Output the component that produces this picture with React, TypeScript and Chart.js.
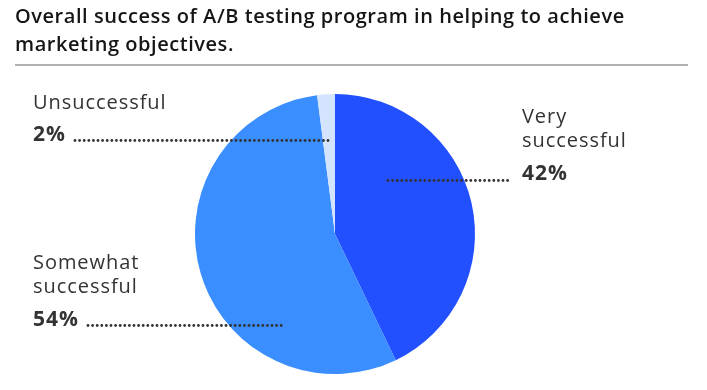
import React, { useEffect, useRef } from "react";
import { Chart, registerables } from "chart.js";

Chart.register(...registerables);

const categories = ["Very successful", "Somewhat successful", "Unsuccessful"];
const values = [42, 54, 2];
const labelLines = [["Very", "successful"], ["Somewhat", "successful"], ["Unsuccessful"]];
const colors = ["#2350FF", "#3A8EFF", "#D4E4FF"];
const titleLines = [
  "Overall success of A/B testing program in helping to achieve",
  "marketing objectives.",
];

// label layout: text x, first line y, pct y, dot line from/to
const labelLayout = [
  { x: 522, y0: 117, pctY: 174, dotY: 180.5, dx0: 388, dx1: 512 },
  { x: 33, y0: 263, pctY: 320, dotY: 325.5, dx0: 88, dx1: 283 },
  { x: 33, y0: 103, pctY: 135, dotY: 140.5, dx0: 75, dx1: 331 },
];

const FONT = "'Open Sans', sans-serif";

const overlay = {
  id: "overlay",
  afterDraw(chart: any) {
    const ctx = chart.ctx as any;
    ctx.save();
    ctx.fillStyle = "#151515";
    ctx.textBaseline = "middle";
    ctx.textAlign = "left";
    ctx.font = `600 20px ${FONT}`;
    ctx.letterSpacing = "0.55px";
    titleLines.forEach((t, i) => ctx.fillText(t, 15, 17 + i * 28));
    ctx.strokeStyle = "#9a9a9a";
    ctx.lineWidth = 1.5;
    ctx.beginPath();
    ctx.moveTo(15, 65);
    ctx.lineTo(688, 65);
    ctx.stroke();

    labelLayout.forEach((L, i) => {
      ctx.fillStyle = "#333";
      ctx.font = `400 20px ${FONT}`;
      ctx.letterSpacing = "0.95px";
      labelLines[i].forEach((t, j) => ctx.fillText(t, L.x, L.y0 + j * 24));
      ctx.font = `700 21px ${FONT}`;
      ctx.letterSpacing = "1px";
      ctx.fillText(`${values[i]}%`, L.x, L.pctY);
      ctx.letterSpacing = "0px";
      for (let x = L.dx0; x <= L.dx1 + 0.1; x += 4.6) {
        ctx.beginPath();
        ctx.arc(x, L.dotY, 1.4, 0, Math.PI * 2);
        ctx.fill();
      }
    });
    ctx.restore();
  },
};

export default function App() {
  const ref = useRef<HTMLCanvasElement>(null);
  useEffect(() => {
    document.body.style.margin = "0";
    const chart = new Chart(ref.current!, {
      type: "pie",
      data: {
        labels: categories,
        datasets: [
          {
            data: values,
            backgroundColor: colors,
            borderWidth: 0,
          },
        ],
      },
      options: {
        animation: false,
        responsive: false,
        layout: { padding: { left: 195, right: 232, top: 94, bottom: 16 } },
        plugins: { legend: { display: false }, tooltip: { enabled: false } },
      },
      plugins: [overlay],
    });
    return () => chart.destroy();
  }, []);
  return (
    <div style={{ position: "absolute", left: 0, top: 0, width: 707, height: 390 }}>
      <canvas ref={ref} width={707} height={390} />
    </div>
  );
}
